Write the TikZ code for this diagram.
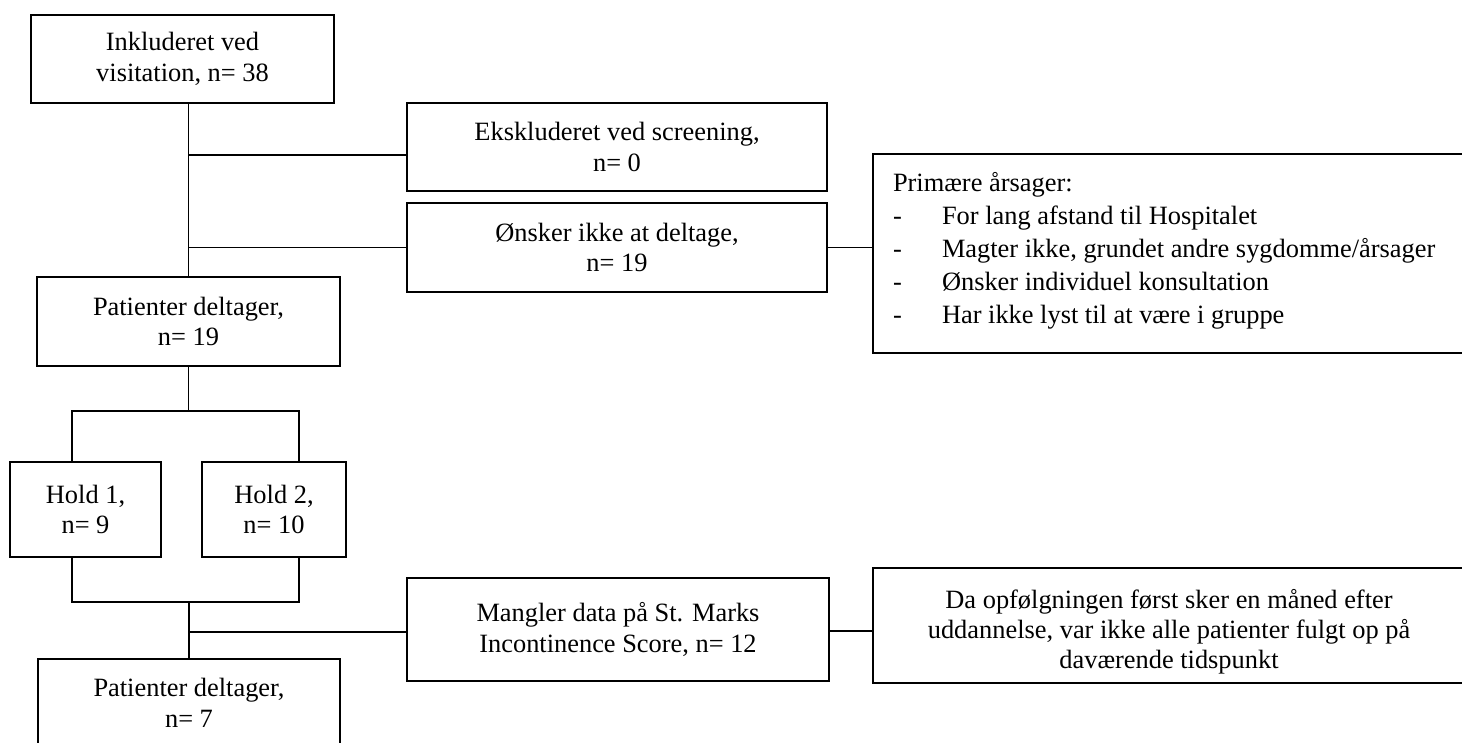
\documentclass[tikz,border=0pt]{standalone}
\usepackage{fontspec}
\setmainfont{Liberation Serif}
\begin{document}
\begin{tikzpicture}[x=1pt,y=-1pt,
  box/.style={draw=black, line width=1.3pt, align=center, inner sep=0pt,
    font=\fontsize{26.4}{30.5}\selectfont},
  link/.style={draw=black, line width=1.3pt}]
\useasboundingbox (0,0) rectangle (1462,743);
\clip (0,0) rectangle (1462,743);

% main column
\node[box, minimum width=303pt, minimum height=88pt] (inc) at (182.5,59)
  {Inkluderet ved\\visitation, n= 38};
\node[box, minimum width=303pt, minimum height=89pt] (pat1) at (188.5,321.5)
  {Patienter deltager,\\n= 19};
\node[box, minimum width=151pt, minimum height=95pt] (hold1) at (85.5,509.5)
  {Hold 1,\\n= 9};
\node[box, minimum width=144pt, minimum height=95pt] (hold2) at (274,509.5)
  {Hold 2,\\n= 10};
\node[box, minimum width=302pt, minimum height=88pt] (pat2) at (189,703)
  {Patienter deltager,\\n= 7};

% exclusions
\node[box, minimum width=420pt, minimum height=88pt] (eks) at (617,147)
  {Ekskluderet ved screening,\\n= 0};
\node[box, minimum width=420pt, minimum height=89pt] (onsk) at (617,247.5)
  {Ønsker ikke at deltage,\\n= 19};
\node[box, minimum width=422pt, minimum height=103pt] (mangl) at (618,629.5)
  {Mangler data på St. Marks\\Incontinence Score, n= 12};

% explanations (a little extra space below the list / above the note)
\node[box, inner xsep=20pt, inner ysep=0pt, minimum height=199pt,
  font=\fontsize{26.4}{33}\selectfont] (aars) at (1170,253.5)
  {\parbox{554pt}{\raggedright
   Primære årsager:\\
   \makebox[49pt][l]{-}For lang afstand til Hospitalet\\
   \makebox[49pt][l]{-}Magter ikke, grundet andre sygdomme/årsager\\
   \makebox[49pt][l]{-}Ønsker individuel konsultation\\
   \makebox[49pt][l]{-}Har ikke lyst til at være i gruppe\par\vspace*{6pt}}};
\node[box, minimum width=592pt, minimum height=115pt,
  font=\fontsize{26.4}{30}\selectfont] (dafolg) at (1169,625.5)
  {\parbox{580pt}{\vspace*{12pt}\centering
   Da opfølgningen først sker en måned efter\\
   uddannelse, var ikke alle patienter fulgt op på\\
   daværende tidspunkt}};

% connectors
\coordinate (eksin) at (407,155);
\coordinate (fork) at (188.5,411);
\coordinate (h1top) at (72,411);
\coordinate (h2top) at (299,411);
\coordinate (h1bot) at (72,602);
\coordinate (h2bot) at (299,602);
\coordinate (mangin) at (407,632);
\coordinate (dafin) at (873,631);

\draw[link] (inc.south -| pat1.north) -- (pat1.north);
\draw[link] (eksin -| pat1.north) -- (eks.west |- eksin);
\draw[link] (onsk.west -| pat1.north) -- (onsk.west);
\draw[link] (onsk.east) -- (onsk.east -| aars.west);
\draw[link] (pat1.south) -- (fork);
\draw[link] (h1top |- hold1.north) -- (h1top) -- (h2top) -- (h2top |- hold2.north);
\draw[link] (h1bot |- hold1.south) -- (h1bot) -- (h2bot) -- (h2bot |- hold2.south);
\draw[link] (pat2.north |- h1bot) -- (pat2.north);
\draw[link] (pat2.north |- mangin) -- (mangl.west |- mangin);
\draw[link] (mangl.east |- dafin) -- (dafolg.west |- dafin);
\end{tikzpicture}
\end{document}
